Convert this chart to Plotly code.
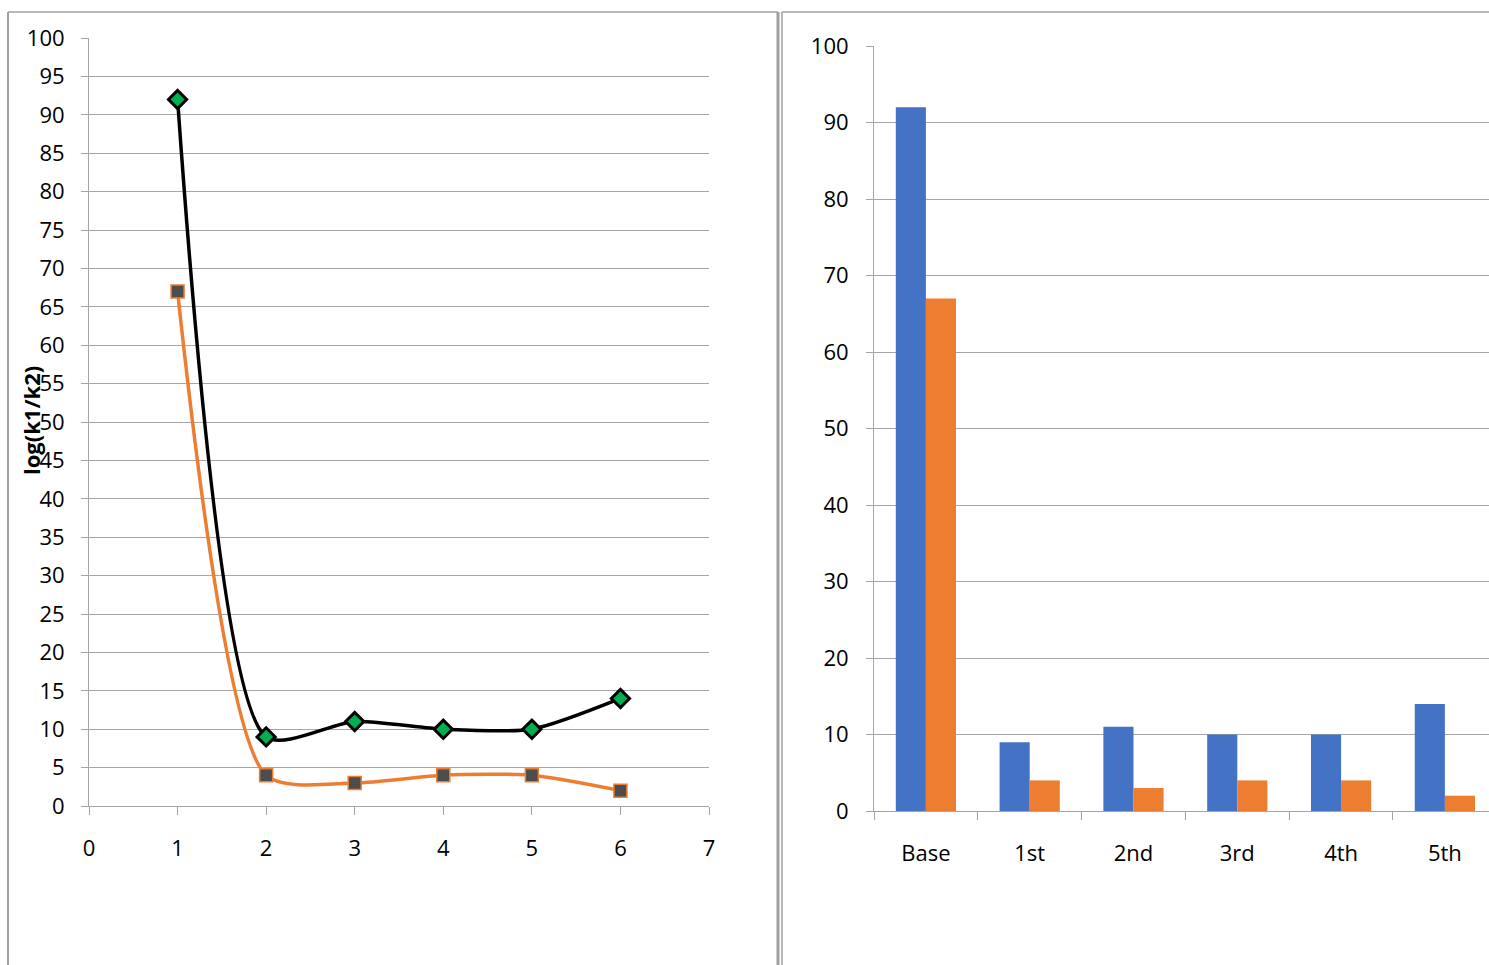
import plotly.graph_objects as go

# Series values
steps = [1, 2, 3, 4, 5, 6]
series_a = [92, 9, 11, 10, 10, 14]
series_b = [67, 4, 3, 4, 4, 2]
stages = ["Base", "1st", "2nd", "3rd", "4th", "5th"]

W, H = 1489, 965
FONT = "Open Sans"
GRID = "#a6a6a6"


def px_x(v):
    return v / W


def px_y(v):
    return 1 - v / H


fig = go.Figure()

# Left panel: smoothed lines with markers
fig.add_trace(go.Scatter(
    x=steps, y=series_a, mode="lines+markers", line_shape="spline",
    line=dict(color="black", width=3.5, smoothing=0.7),
    marker=dict(symbol="diamond", size=14, color="#00b050",
                line=dict(color="black", width=3)),
    xaxis="x", yaxis="y", showlegend=False))
fig.add_trace(go.Scatter(
    x=steps, y=series_b, mode="lines+markers", line_shape="spline",
    line=dict(color="#ed7d31", width=3.5, smoothing=0.7),
    marker=dict(symbol="square", size=13, color="#4d4d4d",
                line=dict(color="#ed7d31", width=1.5)),
    xaxis="x", yaxis="y", showlegend=False))

# Right panel: grouped bars
fig.add_trace(go.Bar(x=stages, y=series_a, marker=dict(color="#4472c4", line=dict(width=0)),
                     xaxis="x2", yaxis="y2", showlegend=False))
fig.add_trace(go.Bar(x=stages, y=series_b, marker=dict(color="#ed7d31", line=dict(width=0)),
                     xaxis="x2", yaxis="y2", showlegend=False))

tickfont = dict(family=FONT, size=22, color="black")

fig.update_layout(
    width=W, height=H,
    margin=dict(l=0, r=0, t=0, b=0, pad=0, autoexpand=False),
    paper_bgcolor="white", plot_bgcolor="white",
    bargap=0.42, bargroupgap=0,
    xaxis=dict(domain=[px_x(89), px_x(709)], range=[0, 7], dtick=1,
               showgrid=False, showline=True, linecolor=GRID, linewidth=1,
               ticks="outside", ticklen=8, tickcolor=GRID, automargin=False,
               tickfont=tickfont, ticklabelstandoff=15, zeroline=False,
               anchor="y"),
    yaxis=dict(domain=[px_y(806), px_y(38)], range=[0, 100], dtick=5,
               showgrid=True, gridcolor=GRID, gridwidth=1,
               showline=True, linecolor=GRID, linewidth=1,
               ticks="outside", ticklen=7, tickcolor=GRID, automargin=False,
               tickfont=tickfont, ticklabelstandoff=12, zeroline=False,
               anchor="x"),
    # the last category is cut by the right edge of the panel
    xaxis2=dict(domain=[px_x(874), 1.0], range=[-0.5, 5.425], type="category",
                showgrid=False, showline=True, linecolor=GRID, linewidth=1,
                ticks="outside", ticklen=8, tickcolor=GRID, tickson="boundaries",
                automargin=False,
                tickfont=tickfont, ticklabelstandoff=23, anchor="y2"),
    yaxis2=dict(domain=[px_y(811), px_y(46)], range=[0, 100], dtick=10,
                showgrid=True, gridcolor=GRID, gridwidth=1,
                showline=True, linecolor=GRID, linewidth=1,
                ticks="outside", ticklen=7, tickcolor=GRID, automargin=False,
                tickfont=tickfont, ticklabelstandoff=13, zeroline=False,
                anchor="x2"),
)

# Y-axis title on the left panel
fig.add_annotation(text="<b>log(k1/k2)</b>", xref="paper", yref="paper",
                   x=px_x(31), y=px_y(421), textangle=-90, showarrow=False,
                   font=dict(family=FONT, size=22, color="black"),
                   xanchor="center", yanchor="middle")

# Panel frames
frame = "#a0a0a0"
shapes = [
    dict(type="line", xref="paper", yref="paper", x0=px_x(8), x1=px_x(8), y0=0, y1=px_y(12),
         line=dict(color=frame, width=2)),
    dict(type="line", xref="paper", yref="paper", x0=px_x(8), x1=px_x(778), y0=px_y(12), y1=px_y(12),
         line=dict(color=frame, width=1.5)),
    dict(type="line", xref="paper", yref="paper", x0=px_x(778), x1=px_x(778), y0=0, y1=px_y(12),
         line=dict(color=frame, width=3)),
    dict(type="line", xref="paper", yref="paper", x0=px_x(782), x1=px_x(782), y0=0, y1=px_y(12),
         line=dict(color=frame, width=1.5)),
    dict(type="line", xref="paper", yref="paper", x0=px_x(782), x1=1.0, y0=px_y(12), y1=px_y(12),
         line=dict(color=frame, width=1.5)),
]
fig.update_layout(shapes=shapes)

fig.write_html("out.html")
